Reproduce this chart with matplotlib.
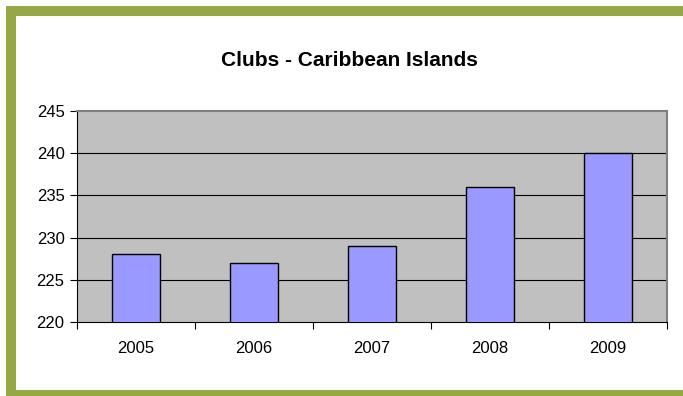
import numpy as np
import matplotlib.pyplot as plt
from matplotlib.patches import Rectangle

# data
years = ["2005", "2006", "2007", "2008", "2009"]
clubs = [228, 227, 229, 236, 240]
y_ticks = [220, 225, 230, 235, 240, 245]

W, H = 683, 396
fig = plt.figure(figsize=(W / 100, H / 100), dpi=100)
fig.patch.set_facecolor("white")
plt.rcParams["font.family"] = ["Liberation Sans", "DejaVu Sans"]

# green frame (left, top, bottom)
green = "#96a846"
for (x0, y0, w, h) in [(6, 6, 10, H - 6), (6, 6, W - 6, 10), (6, 390, W - 6, 6)]:
    fig.add_artist(Rectangle((x0 / W, 1 - (y0 + h) / H), w / W, h / H,
                             transform=fig.transFigure, color=green, lw=0, zorder=0))

# plot area
left, right, top, bottom = 77, 667, 111, 322
ax = fig.add_axes([left / W, 1 - bottom / H, (right - left) / W, (bottom - top) / H])
ax.set_facecolor("#c0c0c0")

x = np.arange(len(years))
ax.bar(x, clubs, width=0.4, color="#9999ff", edgecolor="black", linewidth=1, zorder=3)

ax.set_xlim(-0.5, len(years) - 0.5)
ax.set_ylim(220, 245)
ax.set_yticks(y_ticks)
ax.set_yticklabels([str(t) for t in y_ticks], fontsize=12)
for t in y_ticks[1:-1]:
    ax.axhline(t, color="black", lw=0.8, zorder=1)

ax.set_xticks(x)
ax.set_xticklabels(years, fontsize=12)
ax.tick_params(axis="x", length=0, pad=14)
# category separator ticks
ax.set_xticks(np.arange(-0.5, len(years)), minor=True)
ax.tick_params(axis="x", which="minor", length=5, width=0.8, color="black", direction="out")
ax.tick_params(axis="y", length=5, width=0.8, direction="out", pad=4)

for s in ["left", "bottom"]:
    ax.spines[s].set_color("black")
    ax.spines[s].set_linewidth(0.8)
for s in ["top", "right"]:
    ax.spines[s].set_color("#808080")
    ax.spines[s].set_linewidth(1.5)

fig.text(349 / W, 1 - 60 / H, "Clubs - Caribbean Islands", ha="center", va="center",
         fontsize=15, fontweight="bold")

fig.savefig("out.png", dpi=100)
